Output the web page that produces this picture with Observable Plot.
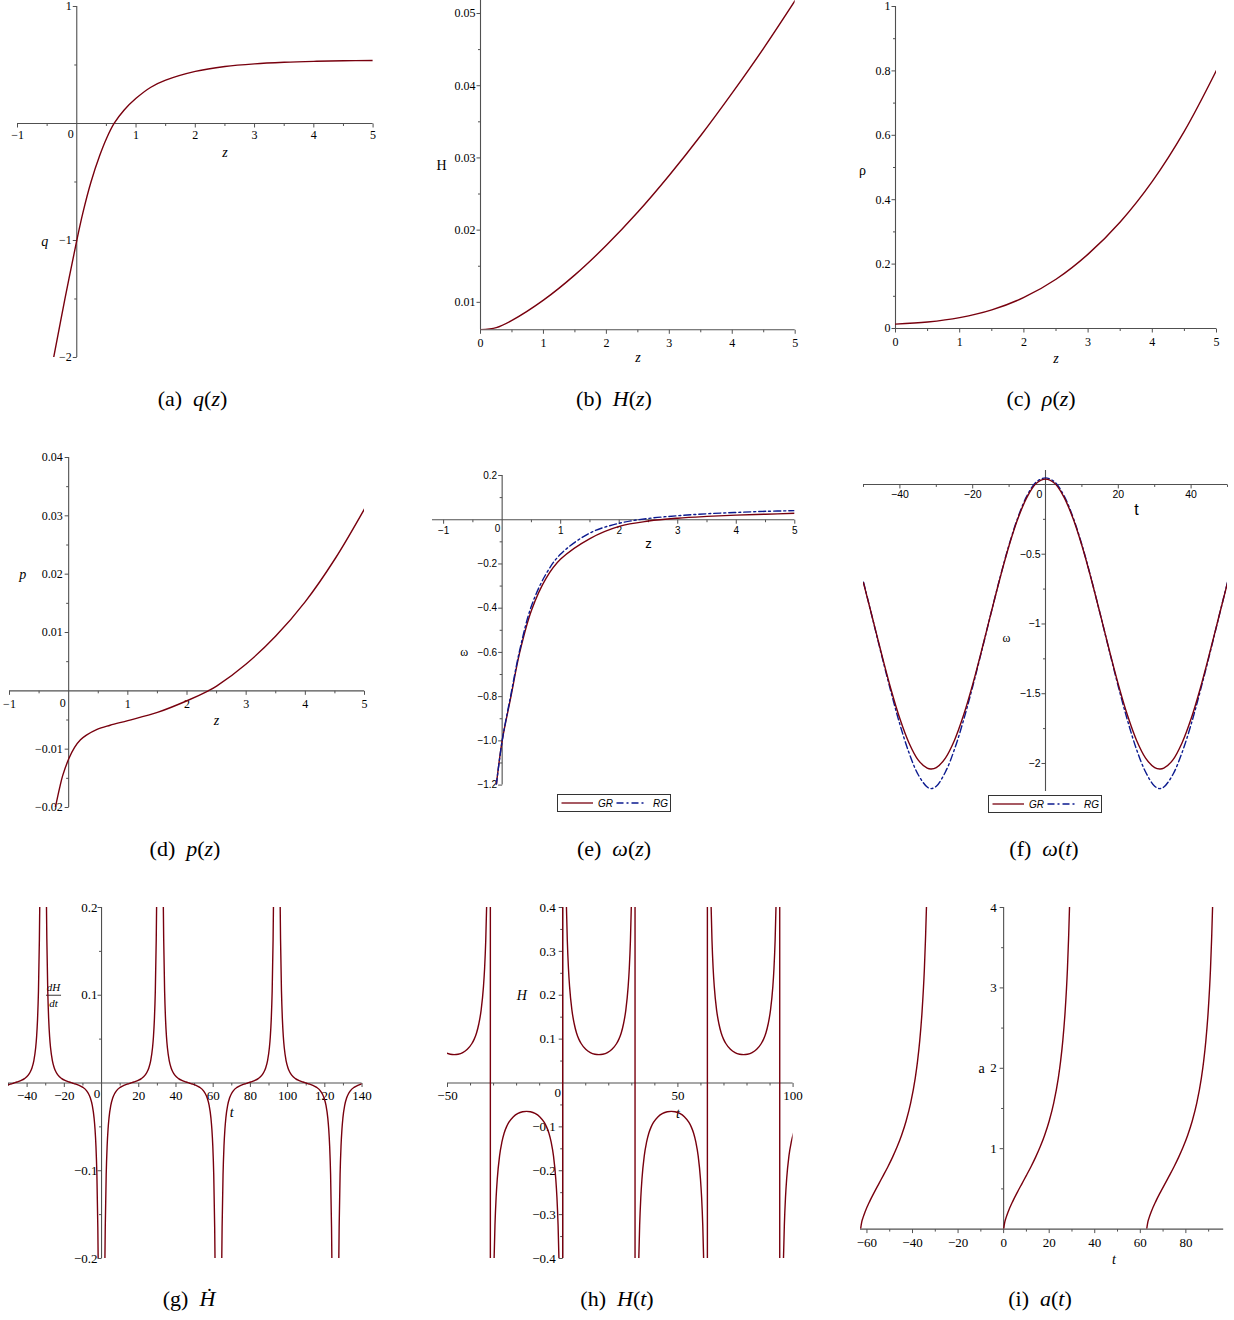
<!DOCTYPE html>
<html><head><meta charset="utf-8">
<script src="https://cdn.jsdelivr.net/npm/d3@7"></script>
<script src="https://cdn.jsdelivr.net/npm/@observablehq/plot@0.6"></script>
<style>
body{margin:0;background:#fff;}
#root{position:relative;width:1234px;height:1320px;overflow:hidden;background:#fff;}
.cap{position:absolute;width:240px;text-align:center;font-family:"Liberation Serif","DejaVu Serif",serif;font-size:22px;line-height:22px;white-space:nowrap;color:#000;}
.cap i{font-style:italic;}
</style></head><body><div id="root"></div>
<script>
// ---------- data ----------
// (a) q(z)
const qZ   = [-0.39, -0.2, 0, 0.1, 0.24, 0.39, 0.5, 0.63, 0.8, 1.0, 1.25, 1.5, 2, 2.5, 3, 3.5, 4, 4.5, 5];
const qVal = [-2.0, -1.5, -1.0, -0.77, -0.5, -0.27, -0.13, 0.0, 0.115, 0.215, 0.31, 0.37, 0.445, 0.487, 0.51, 0.523, 0.531, 0.536, 0.539];
// (b) H(z)
const hzZ   = [0, 0.25, 0.5, 1, 1.5, 2, 2.5, 3, 3.5, 4, 4.5, 5];
const hzVal = [0.0062, 0.0065, 0.0075, 0.0103, 0.0138, 0.0179, 0.0225, 0.0276, 0.0331, 0.0390, 0.0452, 0.0518];
// (c) rho(z)
const rhoZ   = [0, 0.5, 1, 1.5, 2, 2.5, 3, 3.5, 4, 4.5, 5];
const rhoVal = [0.0137, 0.020, 0.0336, 0.0577, 0.0965, 0.153, 0.231, 0.331, 0.457, 0.613, 0.802];
// (d) p(z)
const pZ   = [-0.225, -0.15, -0.1, 0, 0.1, 0.2, 0.3, 0.48, 0.7, 1, 1.5, 2, 2.36, 2.5, 3, 3.5, 4, 4.5, 5];
const pVal = [-0.02, -0.0165, -0.0145, -0.0117, -0.0097, -0.0084, -0.0076, -0.0066, -0.0059, -0.0051, -0.0037, -0.0017, 0, 0.0008, 0.0046, 0.0094, 0.0153, 0.0226, 0.0312];
// (e) omega(z)
const wzZ  = [-0.1, 0, 0.15, 0.3, 0.5, 0.75, 1, 1.5, 2, 2.5, 3, 3.5, 4, 4.5, 5];
const wzGR = [-1.2, -1.0, -0.80, -0.60, -0.41, -0.265, -0.178, -0.085, -0.03, -0.006, 0.007, 0.015, 0.021, 0.025, 0.029];
const wzRG = [-1.2, -1.0, -0.79, -0.59, -0.39, -0.245, -0.155, -0.06, -0.016, 0.006, 0.018, 0.027, 0.033, 0.038, 0.041];
// (f) omega(t)
const wtT  = [-50, -47.5, -45, -42.5, -40, -37.5, -35, -32.5, -31.4, -30, -27.5, -25, -22.5, -20, -17.5, -15, -12.5, -10, -7.5, -5, -2.5, 0,
              2.5, 5, 7.5, 10, 12.5, 15, 17.5, 20, 22.5, 25, 27.5, 30, 31.4, 32.5, 35, 37.5, 40, 42.5, 45, 47.5, 50];
const wtGR = [-0.705, -0.961, -1.219, -1.464, -1.680, -1.853, -1.974, -2.034, -2.040, -2.030, -1.961, -1.833, -1.653, -1.433, -1.185, -0.926, -0.672, -0.438, -0.239, -0.087, 0.008, 0.038,
              0.008, -0.087, -0.239, -0.438, -0.672, -0.926, -1.185, -1.433, -1.653, -1.833, -1.961, -2.030, -2.040, -2.034, -1.974, -1.853, -1.680, -1.464, -1.219, -0.961, -0.705];
const wtRG = [-0.700, -0.963, -1.227, -1.482, -1.720, -1.923, -2.079, -2.169, -2.180, -2.163, -2.061, -1.898, -1.688, -1.448, -1.190, -0.926, -0.669, -0.432, -0.231, -0.077, 0.018, 0.047,
              0.018, -0.077, -0.231, -0.432, -0.669, -0.926, -1.190, -1.448, -1.688, -1.898, -2.061, -2.163, -2.180, -2.169, -2.079, -1.923, -1.720, -1.482, -1.227, -0.963, -0.700];
// (g) dH/dt : one branch between two poles (offset from left pole, value), pole positions and signs
const gOff   = [1.2, 1.5, 1.8, 2.0, 2.5, 3, 3.5, 4, 5, 6, 7, 8, 10, 12, 14, 15.7, 17.4, 19.4, 21.4, 23.4, 24.4, 25.4, 26.4, 27.4, 27.9, 28.4, 28.9, 29.4, 29.6, 29.9, 30.2];
const gVal   = [0.457, 0.292, 0.203, 0.164, 0.1045, 0.0722, 0.0527, 0.0401, 0.0252, 0.0171, 0.0122, 0.0089, 0.0050, 0.00275, 0.00116, 0, -0.00116, -0.00275, -0.0050, -0.0089, -0.0122, -0.0171, -0.0252, -0.0401, -0.0527, -0.0722, -0.1045, -0.164, -0.203, -0.292, -0.457];
const gPoles = [-62.8, -31.4, 0, 31.4, 62.8, 94.2, 125.7];
const gSigns = [-1, 1, -1, 1, -1, 1, -1];
// (h) H(t) : one arch between poles, arch starts, signs, asymptote lines
const hOff   = [1.0, 1.3, 1.6, 2.0, 2.5, 3, 4, 5, 6, 7, 8, 10, 12, 14, 15.7, 17.4, 19.4, 21.4, 23.4, 24.4, 25.4, 26.4, 27.4, 28.4, 28.9, 29.4, 29.8, 30.1, 30.4];
const hVal   = [0.647, 0.498, 0.406, 0.325, 0.261, 0.219, 0.166, 0.135, 0.114, 0.100, 0.090, 0.0768, 0.0693, 0.0656, 0.0646, 0.0656, 0.0693, 0.0768, 0.090, 0.100, 0.114, 0.135, 0.166, 0.219, 0.261, 0.325, 0.406, 0.498, 0.647];
const hStarts = [-62.8, -31.4, 0, 31.4, 62.8, 94.2];
const hSigns  = [1, -1, 1, -1, 1, -1];
const hAsym   = [-31.4, 0, 31.4, 62.8, 94.2];
// (i) a(t) : one branch (offset from start, value) and branch starts
const aOff    = [0, 0.5, 1, 2, 4, 6, 8, 10, 12, 14, 16, 18, 20, 22, 24, 25, 26, 27, 28, 28.5, 29, 29.5];
const aVal    = [0, 0.086, 0.136, 0.216, 0.345, 0.457, 0.563, 0.668, 0.776, 0.892, 1.02, 1.167, 1.344, 1.569, 1.877, 2.085, 2.35, 2.708, 3.228, 3.608, 4.078, 4.80];
const aStarts = [-62.8, 0, 62.8];

// ---------- helpers ----------
const root = document.getElementById("root");
const M = 40;
const AX = "#505050";
const RED = "#78000E";
const BLUE = "#0B1A8F";
const SERIF = "'Liberation Serif', 'DejaVu Serif', serif";
const SANS = "'Liberation Sans', 'DejaVu Sans', sans-serif";

const downTick = len => ({draw(c){ c.moveTo(0,0); c.lineTo(0,len); }});
const leftTick = len => ({draw(c){ c.moveTo(0,0); c.lineTo(-len,0); }});
const hBar = len => ({draw(c){ c.moveTo(-len/2,0); c.lineTo(len/2,0); }});

const zip = (xs, ys, extra = {}) => xs.map((x, i) => ({x, y: ys[i], ...extra}));
const branches = (off, val, starts, signs) => starts.flatMap((s, k) =>
  off.map((d, i) => ({x: s + d, y: (signs ? signs[k] : 1) * val[i], b: k})));

function panel(p) {
  const W = p.fx1 - p.fx0 + 2*M, H = p.fy1 - p.fy0 + 2*M;
  const xa = p.xAxisAt, ya = p.yAxisAt;
  const ff = p.font, fs = p.fontSize;
  const marks = [
    Plot.ruleY([xa], {y: d => d, stroke: AX, strokeWidth: 1.1}),
    Plot.ruleX([ya], {x: d => d, stroke: AX, strokeWidth: 1.1}),
    Plot.dot(p.xMajor, {x: d => d, y: () => xa, symbol: downTick(4), stroke: AX, fill: "none", strokeWidth: 1}),
    Plot.dot(p.xMinor, {x: d => d, y: () => xa, symbol: downTick(2.5), stroke: AX, fill: "none", strokeWidth: 1}),
    Plot.dot(p.yMajor, {x: () => ya, y: d => d, symbol: leftTick(4), stroke: AX, fill: "none", strokeWidth: 1}),
    Plot.dot(p.yMinor, {x: () => ya, y: d => d, symbol: leftTick(2.5), stroke: AX, fill: "none", strokeWidth: 1}),
    Plot.text(p.xTicks, {x: d => d, y: () => xa, dy: p.xdy, text: (d, i) => p.xLabels[i], fontFamily: ff, fontSize: fs, fill: "#000"}),
    Plot.text(p.yTicks, {x: () => ya, y: d => d, dx: p.ydx, textAnchor: "end", text: (d, i) => p.yLabels[i], fontFamily: ff, fontSize: fs, fill: "#000"})
  ];
  if (p.zero) marks.push(Plot.text(["0"], {x: () => ya, y: () => xa, dx: p.zero[0], dy: p.zero[1], text: d => d, fontFamily: ff, fontSize: fs, fill: "#000"}));
  for (const t of p.titles) {
    marks.push(Plot.text([t.text], {x: () => t.x, y: () => t.y, dx: t.dx || 0, dy: t.dy || 0, text: d => d,
      fontFamily: t.font || SERIF, fontSize: t.size || 14, fontStyle: t.italic ? "italic" : "normal", fill: "#000"}));
  }
  if (p.extra) marks.push(...p.extra);
  marks.push(...p.marks);
  const svg = Plot.plot({
    width: W, height: H, margin: M,
    x: {domain: p.xdom, axis: null},
    y: {domain: p.ydom, axis: null},
    style: {background: "transparent", overflow: "visible", fontFamily: ff},
    marks
  });
  svg.style.position = "absolute";
  svg.style.left = (p.fx0 - M) + "px";
  svg.style.top = (p.fy0 - M) + "px";
  svg.style.maxWidth = "none";
  root.appendChild(svg);
}

function caption(cx, baseline, html) {
  const d = document.createElement("div");
  d.className = "cap";
  d.style.left = (cx - 120) + "px";
  d.style.top = (baseline - 18) + "px";
  d.innerHTML = html;
  root.appendChild(d);
}

function legend(left, top) {
  const NS = "http://www.w3.org/2000/svg";
  const s = document.createElementNS(NS, "svg");
  s.setAttribute("width", 114); s.setAttribute("height", 18);
  s.style.position = "absolute"; s.style.left = left + "px"; s.style.top = top + "px";
  const add = (tag, attrs, txt) => { const e = document.createElementNS(NS, tag); for (const k in attrs) e.setAttribute(k, attrs[k]); if (txt) e.textContent = txt; s.appendChild(e); };
  add("rect", {x: 0.5, y: 0.5, width: 113, height: 17, fill: "#fff", stroke: "#333", "stroke-width": 1});
  add("line", {x1: 4.5, x2: 36, y1: 9, y2: 9, stroke: RED, "stroke-width": 1.3});
  add("text", {x: 41, y: 12.5, "font-family": SANS, "font-size": 10, "font-style": "italic"}, "GR");
  add("line", {x1: 59.5, x2: 89.5, y1: 9, y2: 9, stroke: BLUE, "stroke-width": 1.3, "stroke-dasharray": "7,3,2,3"});
  add("text", {x: 96, y: 12.5, "font-family": SANS, "font-size": 10, "font-style": "italic"}, "RG");
  root.appendChild(s);
}

const smooth = (data, stroke, extra = {}) => Plot.line(data, {x: "x", y: "y", stroke, strokeWidth: 1.4, curve: "catmull-rom", clip: true, ...extra});
const spiky = (data, stroke, extra = {}) => Plot.line(data, {x: "x", y: "y", stroke, strokeWidth: 1.4, curve: "monotone-x", clip: true, ...extra});

// ---------- (a) q(z) ----------
panel({
  fx0: 16.7, fx1: 372.3, fy0: 5.7, fy1: 356.7, xdom: [-1, 5], ydom: [-2, 1], xAxisAt: 0, yAxisAt: 0,
  font: SERIF, fontSize: 12, xdy: 12, ydx: -5,
  xMajor: [-1, 1, 2, 3, 4, 5], xMinor: [-0.5, 0.5, 1.5, 2.5, 3.5, 4.5],
  yMajor: [-2, -1, 1], yMinor: [-1.5, -0.5, 0.5],
  xTicks: [-1, 1, 2, 3, 4, 5], xLabels: ["\u22121", "1", "2", "3", "4", "5"],
  yTicks: [-2, -1, 1], yLabels: ["\u22122", "\u22121", "1"],
  zero: [-6, 11],
  titles: [{text: "z", x: 2.5, y: 0, dy: 29, italic: true}, {text: "q", x: 0, y: -1, dx: -32, dy: 1, italic: true}],
  marks: [smooth(zip(qZ, qVal), RED)]
});
// ---------- (b) H(z) ----------
panel({
  fx0: 480.3, fx1: 795, fy0: 0, fy1: 329.3, xdom: [0, 5], ydom: [0.0062, 0.0518], xAxisAt: 0.0062, yAxisAt: 0,
  font: SERIF, fontSize: 12, xdy: 13.5, ydx: -5,
  xMajor: [0, 1, 2, 3, 4, 5], xMinor: [0.5, 1.5, 2.5, 3.5, 4.5],
  yMajor: [0.01, 0.02, 0.03, 0.04, 0.05], yMinor: [0.015, 0.025, 0.035, 0.045],
  xTicks: [0, 1, 2, 3, 4, 5], xLabels: ["0", "1", "2", "3", "4", "5"],
  yTicks: [0.01, 0.02, 0.03, 0.04, 0.05], yLabels: ["0.01", "0.02", "0.03", "0.04", "0.05"],
  titles: [{text: "z", x: 2.5, y: 0.0062, dy: 28, italic: true}, {text: "H", x: 0, y: 0.029, dx: -39}],
  marks: [smooth(zip(hzZ, hzVal), RED)]
});
// ---------- (c) rho(z) ----------
panel({
  fx0: 895, fx1: 1216, fy0: 5.7, fy1: 327.7, xdom: [0, 5], ydom: [0, 1], xAxisAt: 0, yAxisAt: 0,
  font: SERIF, fontSize: 12, xdy: 13.5, ydx: -5,
  xMajor: [0, 1, 2, 3, 4, 5], xMinor: [0.5, 1.5, 2.5, 3.5, 4.5],
  yMajor: [0, 0.2, 0.4, 0.6, 0.8, 1], yMinor: [0.1, 0.3, 0.5, 0.7, 0.9],
  xTicks: [0, 1, 2, 3, 4, 5], xLabels: ["0", "1", "2", "3", "4", "5"],
  yTicks: [0, 0.2, 0.4, 0.6, 0.8, 1], yLabels: ["0", "0.2", "0.4", "0.6", "0.8", "1"],
  titles: [{text: "z", x: 2.5, y: 0, dy: 30.5, italic: true}, {text: "\u03C1", x: 0, y: 0.49, dx: -33}],
  marks: [smooth(zip(rhoZ, rhoVal), RED)]
});
// ---------- (d) p(z) ----------
panel({
  fx0: 9.3, fx1: 364.3, fy0: 456.7, fy1: 806.7, xdom: [-1, 5], ydom: [-0.02, 0.04], xAxisAt: 0, yAxisAt: 0,
  font: SERIF, fontSize: 12, xdy: 13, ydx: -6,
  xMajor: [-1, 1, 2, 3, 4, 5], xMinor: [-0.5, 0.5, 1.5, 2.5, 3.5, 4.5],
  yMajor: [-0.02, -0.01, 0.01, 0.02, 0.03, 0.04], yMinor: [-0.015, -0.005, 0.005, 0.015, 0.025, 0.035],
  xTicks: [-1, 1, 2, 3, 4, 5], xLabels: ["\u22121", "1", "2", "3", "4", "5"],
  yTicks: [-0.02, -0.01, 0.01, 0.02, 0.03, 0.04], yLabels: ["\u22120.02", "\u22120.01", "0.01", "0.02", "0.03", "0.04"],
  zero: [-6, 12],
  titles: [{text: "z", x: 2.5, y: 0, dy: 30, italic: true}, {text: "p", x: 0, y: 0.02, dx: -46, italic: true}],
  marks: [smooth(zip(pZ, pVal), RED)]
});
// ---------- (e) omega(z) ----------
panel({
  fx0: 431.7, fx1: 794, fy0: 474.7, fy1: 784.3, xdom: [-1.19, 5], ydom: [-1.2, 0.2], xAxisAt: 0, yAxisAt: 0,
  font: SANS, fontSize: 10, xdy: 11, ydx: -5,
  xMajor: [-1, 1, 2, 3, 4, 5], xMinor: [-0.5, 0.5, 1.5, 2.5, 3.5, 4.5],
  yMajor: [-1.2, -1.0, -0.8, -0.6, -0.4, -0.2, 0.2], yMinor: [-1.1, -0.9, -0.7, -0.5, -0.3, -0.1, 0.1],
  xTicks: [-1, 1, 2, 3, 4, 5], xLabels: ["\u22121", "1", "2", "3", "4", "5"],
  yTicks: [-1.2, -1.0, -0.8, -0.6, -0.4, -0.2, 0.2], yLabels: ["\u22121.2", "\u22121.0", "\u22120.8", "\u22120.6", "\u22120.4", "\u22120.2", "0.2"],
  zero: [-4.5, 9.5],
  titles: [{text: "z", x: 2.5, y: 0, dy: 24, font: SANS, size: 13}, {text: "\u03C9", x: 0, y: -0.6, dx: -38, size: 12}],
  marks: [smooth(zip(wzZ, wzGR), RED), smooth(zip(wzZ, wzRG), BLUE, {strokeDasharray: "7,3,2,3"})]
});
// ---------- (f) omega(t) ----------
panel({
  fx0: 863.3, fx1: 1227.3, fy0: 469.5, fy1: 790.4, xdom: [-50, 50], ydom: [-2.2, 0.1], xAxisAt: 0, yAxisAt: 0,
  font: SANS, fontSize: 10.5, xdy: 10.5, ydx: -5,
  xMajor: [-40, -20, 20, 40], xMinor: [-50, -30, -10, 10, 30, 50],
  yMajor: [-2, -1.5, -1, -0.5], yMinor: [-1.75, -1.25, -0.75, -0.25],
  xTicks: [-40, -20, 20, 40], xLabels: ["\u221240", "\u221220", "20", "40"],
  yTicks: [-2, -1.5, -1, -0.5], yLabels: ["\u22122", "\u22121.5", "\u22121", "\u22120.5"],
  zero: [-6, 10],
  titles: [{text: "t", x: 25, y: 0, dy: 25, font: SANS, size: 16}, {text: "\u03C9", x: 0, y: -1.1, dx: -39, size: 12}],
  marks: [smooth(zip(wtT, wtRG), BLUE, {strokeDasharray: "7,3,2,3"}), smooth(zip(wtT, wtGR), RED)]
});
// ---------- (g) dH/dt ----------
panel({
  fx0: 8.05, fx1: 361.6, fy0: 906.7, fy1: 1257.7, xdom: [-50, 140], ydom: [-0.2, 0.2], xAxisAt: 0, yAxisAt: 0,
  font: SERIF, fontSize: 13, xdy: 12.5, ydx: -4,
  xMajor: [-40, -20, 20, 40, 60, 80, 100, 120, 140], xMinor: [-50, -30, -10, 10, 30, 50, 70, 90, 110, 130],
  yMajor: [-0.2, -0.1, 0.1, 0.2], yMinor: [-0.15, -0.05, 0.05, 0.15],
  xTicks: [-40, -20, 20, 40, 60, 80, 100, 120, 140], xLabels: ["\u221240", "\u221220", "20", "40", "60", "80", "100", "120", "140"],
  yTicks: [-0.2, -0.1, 0.1, 0.2], yLabels: ["\u22120.2", "\u22120.1", "0.1", "0.2"],
  zero: [-4.5, 11],
  titles: [{text: "t", x: 70, y: 0, dy: 29.5, italic: true},
           {text: "dH", x: 0, y: 0.1, dx: -48, dy: -8, italic: true, size: 11},
           {text: "dt", x: 0, y: 0.1, dx: -48, dy: 8, italic: true, size: 11}],
  extra: [Plot.dot([0.1], {x: () => 0, y: d => d, dx: -48, symbol: hBar(15), stroke: "#000", fill: "none", strokeWidth: 0.8})],
  marks: [spiky(branches(gOff, gVal, gPoles, gSigns), RED, {z: "b"})]
});
// ---------- (h) H(t) ----------
panel({
  fx0: 446.7, fx1: 792.3, fy0: 906.7, fy1: 1257.7, xdom: [-50, 100], ydom: [-0.4, 0.4], xAxisAt: 0, yAxisAt: 0,
  font: SERIF, fontSize: 13, xdy: 13, ydx: -7,
  xMajor: [-50, 50, 100], xMinor: [-40, -30, -20, -10, 10, 20, 30, 40, 60, 70, 80, 90],
  yMajor: [-0.4, -0.3, -0.2, -0.1, 0.1, 0.2, 0.3, 0.4], yMinor: [-0.35, -0.25, -0.15, -0.05, 0.05, 0.15, 0.25, 0.35],
  xTicks: [-50, 50, 100], xLabels: ["\u221250", "50", "100"],
  yTicks: [-0.4, -0.3, -0.2, -0.1, 0.1, 0.2, 0.3, 0.4], yLabels: ["\u22120.4", "\u22120.3", "\u22120.2", "\u22120.1", "0.1", "0.2", "0.3", "0.4"],
  zero: [-5, 10],
  titles: [{text: "t", x: 50, y: 0, dy: 31, italic: true}, {text: "H", x: 0, y: 0.2, dx: -41, italic: true}],
  marks: [Plot.ruleX(hAsym, {x: d => d, stroke: RED, strokeWidth: 1.4}),
          spiky(branches(hOff, hVal, hStarts, hSigns), RED, {z: "b"})]
});
// ---------- (i) a(t) ----------
panel({
  fx0: 859.6, fx1: 1222.8, fy0: 906.7, fy1: 1228.3, xdom: [-62.83, 96.6], ydom: [0, 4], xAxisAt: 0, yAxisAt: 0,
  font: SERIF, fontSize: 13, xdy: 13.5, ydx: -7,
  xMajor: [-60, -40, -20, 0, 20, 40, 60, 80], xMinor: [-50, -30, -10, 10, 30, 50, 70, 90],
  yMajor: [1, 2, 3, 4], yMinor: [0.5, 1.5, 2.5, 3.5],
  xTicks: [-60, -40, -20, 0, 20, 40, 60, 80], xLabels: ["\u221260", "\u221240", "\u221220", "0", "20", "40", "60", "80"],
  yTicks: [1, 2, 3, 4], yLabels: ["1", "2", "3", "4"],
  titles: [{text: "t", x: 48.4, y: 0, dy: 30, italic: true}, {text: "a", x: 0, y: 2, dx: -22}],
  marks: [spiky(branches(aOff, aVal, aStarts), RED, {z: "b"})]
});

legend(557.3, 794);
legend(987.7, 795);

caption(192.5, 406, "(a)&nbsp; <i>q</i>(<i>z</i>)");
caption(614, 406, "(b)&nbsp; <i>H</i>(<i>z</i>)");
caption(1041, 406, "(c)&nbsp; <i>\u03C1</i>(<i>z</i>)");
caption(185, 856, "(d)&nbsp; <i>p</i>(<i>z</i>)");
caption(614, 856, "(e)&nbsp; <i>\u03C9</i>(<i>z</i>)");
caption(1044, 856, "(f)&nbsp; <i>\u03C9</i>(<i>t</i>)");
caption(189, 1306, "(g)&nbsp; <i>\u1E22</i>");
caption(617, 1306, "(h)&nbsp; <i>H</i>(<i>t</i>)");
caption(1040, 1306, "(i)&nbsp; <i>a</i>(<i>t</i>)");
</script></body></html>
